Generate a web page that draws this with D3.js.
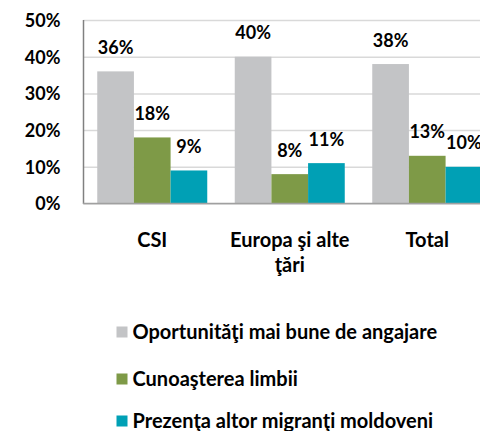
<!DOCTYPE html>
<html>
<head>
<meta charset="utf-8">
<script src="https://cdn.jsdelivr.net/npm/d3@7"></script>
<style>
  body { margin: 0; background: #fff; }
  svg { display: block; font-family: Lato, 'Open Sans', sans-serif; font-weight: bold; }
</style>
</head>
<body>
<svg id="canvas"></svg>
<script>
// ---------------- datos ----------------
let categories = ['CSI', 'Europa şi alte ţări', 'Total']
let categoryLines = [['CSI'], ['Europa şi alte', 'ţări'], ['Total']]
let seriesNames = ['Oportunităţi mai bune de angajare', 'Cunoaşterea limbii', 'Prezenţa altor migranţi moldoveni']
let oportunitati = [0.36, 0.40, 0.38]
let cunoasterea = [0.18, 0.08, 0.13]
let prezenta = [0.09, 0.11, 0.10]
let yTicks = [0, 0.1, 0.2, 0.3, 0.4, 0.5]

let colors = ['#c3c4c6', '#7e9a47', '#00a0b5']

let width = 480
let height = 431

let canvas = d3.select('#canvas')
canvas.attr('width', width).attr('height', height)

let seriesValues = [oportunitati, cunoasterea, prezenta]

// escalas
let yScale = d3.scaleLinear().domain([0, 0.5]).range([203.5, 20])

let xScale = d3.scaleBand()
    .domain(categories)
    .range([83.5, 496])
    .paddingInner(0.2)
    .paddingOuter(0.1)

let xInner = d3.scaleBand()
    .domain(seriesNames)
    .range([0, xScale.bandwidth()])

// grid
canvas.append('g')
    .attr('class', 'grid')
    .attr('transform', 'translate(83.5,0)')
    .call(d3.axisLeft(yScale).tickValues(yTicks).tickSize(-420).tickFormat(''))
    .call(g => g.select('.domain').remove())
    .call(g => g.selectAll('line').attr('stroke', '#d9d9d9').attr('stroke-width', 1.5))

// barras
let groups = canvas.append('g')
    .selectAll('g')
    .data(categories)
    .enter()
    .append('g')
    .attr('transform', (d) => 'translate(' + xScale(d) + ',0)')

groups.selectAll('rect')
    .data((d, i) => seriesNames.map((s, j) => ({ s: s, v: seriesValues[j][i], c: colors[j] })))
    .enter()
    .append('rect')
    .attr('x', (d) => xInner(d.s))
    .attr('y', (d) => yScale(d.v))
    .attr('width', xInner.bandwidth())
    .attr('height', (d) => yScale(0) - yScale(d.v))
    .attr('fill', (d) => d.c)

groups.selectAll('text')
    .data((d, i) => seriesNames.map((s, j) => ({ s: s, v: seriesValues[j][i] })))
    .enter()
    .append('text')
    .attr('x', (d) => xInner(d.s) + xInner.bandwidth() / 2)
    .attr('y', (d) => yScale(d.v) - 17.5)
    .attr('text-anchor', 'middle')
    .attr('font-size', 18)
    .attr('fill', '#000')
    .text((d) => d3.format('.0%')(d.v))

// eje y
let yAxis = d3.axisLeft(yScale)
    .tickValues(yTicks)
    .tickSize(0)
    .tickPadding(23)
    .tickFormat(d3.format('.0%'))

canvas.append('g')
    .attr('transform', 'translate(83.5,0)')
    .call(yAxis)
    .call(g => g.select('.domain').attr('stroke', '#808080').attr('stroke-width', 1.5).attr('d', 'M0,20V204'))
    .call(g => g.selectAll('text').attr('font-size', 18).attr('font-family', 'Lato, sans-serif').attr('font-weight', 'bold').attr('fill', '#000').attr('dy', '0.35em'))

// eje x (linea)
canvas.append('line')
    .attr('x1', 83).attr('x2', width)
    .attr('y1', yScale(0)).attr('y2', yScale(0))
    .attr('stroke', '#a0a0a0')
    .attr('stroke-width', 1.5)

// etiquetas categorias
categories.forEach((c, i) => {
    let t = canvas.append('text')
        .attr('text-anchor', 'middle')
        .attr('font-size', 20)
        .attr('y', 247)
    categoryLines[i].forEach((line, k) => {
        t.append('tspan')
            .attr('x', xScale(c) + xScale.bandwidth() / 2)
            .attr('dy', k === 0 ? 0 : 24.5)
            .text(line)
    })
})

// leyenda
let legendY = [332, 379, 421]
let legend = canvas.append('g')
    .selectAll('g')
    .data(seriesNames)
    .enter()
    .append('g')
    .attr('transform', (d, i) => 'translate(116.5,' + legendY[i] + ')')

legend.append('rect')
    .attr('x', 0).attr('y', -5.5)
    .attr('width', 11).attr('height', 11)
    .attr('fill', (d, i) => colors[i])

legend.append('text')
    .attr('x', 16)
    .attr('y', 7)
    .attr('font-size', 20)
    .text((d) => d)
</script>
</body>
</html>
